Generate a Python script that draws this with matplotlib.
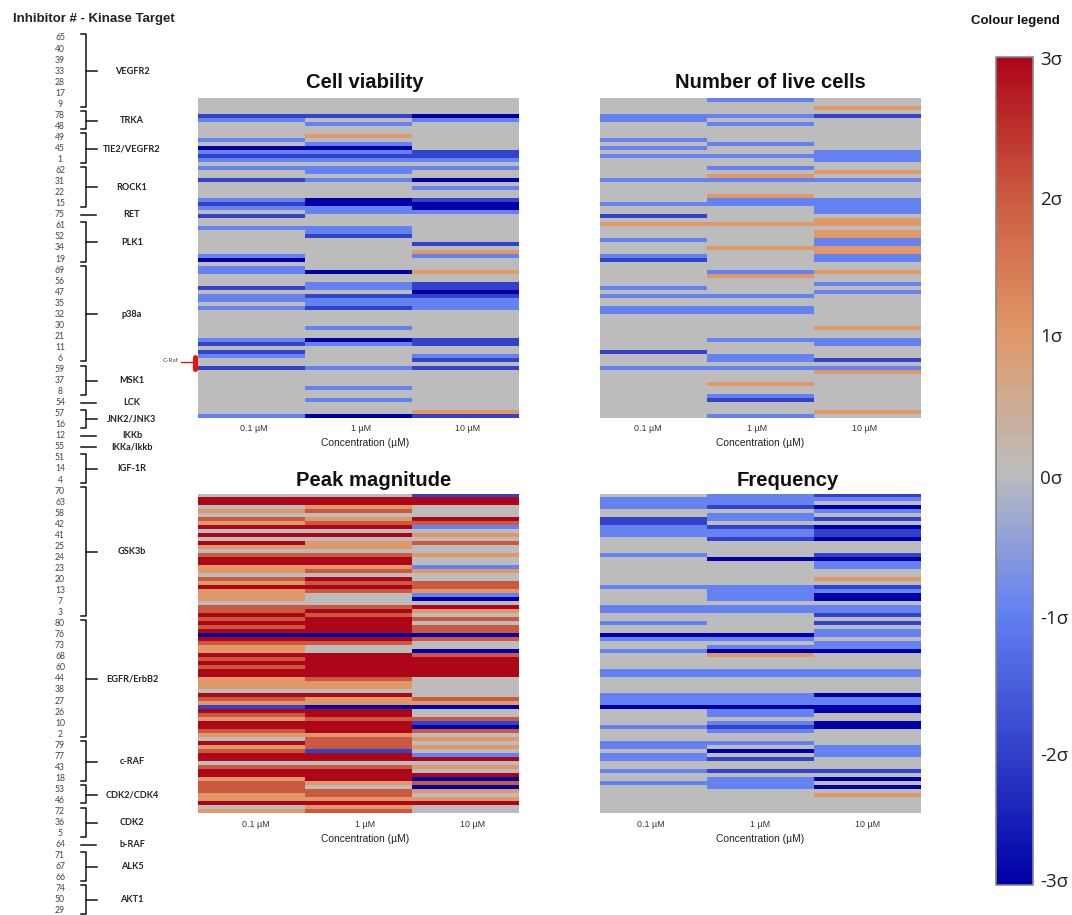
import matplotlib
matplotlib.use('Agg')
import matplotlib.pyplot as plt
from matplotlib.colors import LinearSegmentedColormap
import numpy as np

W, H = 1072, 915

concentrations = ['0.1 µM', '1 µM', '10 µM']

# inhibitor numbers top to bottom, grouped by kinase target
groups = [
    ('VEGFR2', [65, 40, 39, 33, 28, 17, 9]),
    ('TRKA', [78, 48]),
    ('TIE2/VEGFR2', [49, 45, 1]),
    ('ROCK1', [62, 31, 22, 15]),
    ('RET', [75]),
    ('PLK1', [61, 52, 34, 19]),
    ('p38a', [69, 56, 47, 35, 32, 30, 21, 11, 6]),
    ('MSK1', [59, 37, 8]),
    ('LCK', [54]),
    ('JNK2/JNK3', [57, 16]),
    ('IKKb', [12]),
    ('IKKa/Ikkb', [55]),
    ('IGF-1R', [51, 14, 4]),
    ('GSK3b', [70, 63, 58, 42, 41, 25, 24, 23, 20, 13, 7, 3]),
    ('EGFR/ErbB2', [80, 76, 73, 68, 60, 44, 38, 27, 26, 10, 2]),
    ('c-RAF', [79, 77, 43, 18]),
    ('CDK2/CDK4', [53, 46]),
    ('CDK2', [72, 36, 5]),
    ('b-RAF', [64]),
    ('ALK5', [71, 67, 66]),
    ('AKT1', [74, 50, 29]),
]

# values in sigma per row, rows not listed are 0
viability_01 = {4: -2, 5: -1, 10: -1, 12: -3, 13: -1, 14: -2, 15: -1, 17: -1, 20: -2, 25: -1, 26: -2, 27: -1,
                29: -2, 32: -1, 39: -1, 40: -3, 42: -1, 43: -1, 47: -2, 49: -1, 50: -1, 52: -1, 60: -1, 61: -2,
                63: -2, 64: -1, 67: -2, 79: -1}
viability_1 = {4: -2, 6: -1, 9: 1, 11: -1, 12: -3, 13: -1, 14: -2, 15: -1, 17: -1, 18: -1, 20: -1, 25: -3, 26: -3,
               27: -1, 28: -1, 32: -1, 33: -1, 34: -2, 43: -3, 46: -1, 47: -1, 49: -2, 50: -1, 51: -1, 52: -2,
               57: -1, 60: -3, 61: -1, 67: -1, 72: -1, 75: -1, 79: -3}
viability_10 = {4: -3, 5: -1, 13: -2, 14: -2, 15: -1, 17: -1, 20: -3, 22: -1, 25: -2, 26: -3, 27: -3, 28: -1,
                36: -2, 38: 1, 39: -1, 43: 1, 46: -2, 47: -2, 48: -3, 49: -2, 50: -1, 51: -1, 52: -1, 60: -2,
                61: -2, 64: -1, 65: -2, 67: -2, 78: 1, 79: -2}

live_01 = {4: -1, 5: -1, 10: -1, 12: -1, 14: -1, 20: -1, 26: -1, 29: -2, 31: 1, 35: -1, 39: -1, 40: -2, 47: -1,
           49: -1, 52: -1, 53: -1, 63: -2, 67: -1}
live_1 = {0: -1, 4: -1, 6: -1, 11: -1, 14: -1, 17: -1, 19: 1, 20: -1, 24: 1, 25: -1, 26: -1, 31: 1, 37: 1, 43: -1,
          44: 1, 49: -1, 52: -1, 53: -1, 60: -1, 64: -1, 65: -1, 67: -1, 71: 1, 74: -1, 75: -2, 79: -1}
live_10 = {2: 1, 4: -2, 13: -1, 14: -1, 15: -1, 18: 1, 20: -1, 25: -1, 26: -1, 27: -1, 28: -1, 30: 1, 31: 1, 33: 1,
           34: 1, 35: -1, 36: -1, 37: 1, 38: 1, 39: -1, 40: -1, 43: 1, 46: -1, 48: -1, 57: 1, 60: -1, 61: -1,
           65: -2, 67: -1, 68: 1, 78: 1}

peak_01 = {1: 3, 2: 3, 4: 1, 6: 2, 7: 1, 8: 3, 10: 3, 12: 3, 13: 1, 15: 2, 16: 3, 17: 3, 18: 1, 19: 1, 21: 2, 22: 1,
           23: 3, 24: 1, 25: 1, 26: 1, 28: 2, 29: 2, 30: 3, 31: 2, 32: 3, 33: 2, 34: 3, 35: -3, 36: 3, 37: 2,
           38: 1, 39: 1, 40: 3, 41: 2, 42: 3, 43: 2, 44: 3, 45: 3, 46: 1, 47: 1, 48: 1, 50: 3, 51: 2, 52: 1,
           53: -2, 54: 3, 55: 2, 56: 1, 57: 3, 58: 3, 59: 2, 60: 1, 62: 3, 63: 1, 64: 2, 65: 3, 66: 3, 68: 2,
           69: 3, 70: 3, 71: 1, 72: 2, 73: 2, 74: 2, 75: 1, 76: 1, 77: 3, 79: 1}
peak_1 = {1: 3, 2: 3, 3: 1, 4: 2, 6: 1, 7: 2, 8: 3, 10: 3, 12: 1, 13: 1, 15: 2, 16: 3, 17: 3, 18: 1, 19: 2, 21: 3,
          22: 2, 23: 3, 24: 2, 28: 2, 29: 3, 30: 2, 31: 3, 32: 3, 33: 3, 34: 3, 35: -3, 36: 3, 37: 2, 40: 3,
          41: 3, 42: 3, 43: 3, 44: 3, 45: 3, 46: 2, 47: 1, 48: 1, 50: 3, 51: 1, 52: 1, 53: -3, 54: 3, 55: 3,
          56: 2, 57: 3, 58: 3, 59: 3, 60: 1, 61: 2, 62: 2, 63: 2, 64: -2, 65: 3, 66: 3, 68: 2, 69: 3, 70: 3,
          71: 3, 72: 1, 74: 2, 75: 2, 76: 1, 77: 3, 78: 1, 79: 2}
peak_10 = {0: -2, 1: 3, 2: 3, 6: 3, 7: 2, 8: -1, 10: 1, 12: 2, 15: 1, 18: -1, 19: 1, 22: 2, 23: 2, 24: 1, 25: -1,
           26: -3, 28: 3, 29: 1, 31: 2, 33: 2, 34: 2, 35: -3, 36: 2, 39: -3, 40: 2, 41: 3, 42: 3, 43: 3, 44: 3,
           45: 3, 51: 2, 52: 1, 53: -3, 56: 2, 57: -2, 58: -3, 59: 2, 61: 1, 63: 1, 65: -1, 66: 3, 68: 1, 70: 3,
           71: -3, 72: 2, 73: -3, 74: 1, 76: 1, 77: 3}

freq_01 = {1: -1, 2: -1, 3: -1, 6: -2, 7: -2, 8: -1, 9: -1, 10: -1, 15: -1, 23: -1, 28: -1, 29: -1, 32: -1, 35: -3,
           36: -1, 39: -1, 44: -1, 45: -1, 50: -1, 51: -1, 52: -1, 53: -3, 58: -1, 62: -1, 63: -1, 65: -1, 66: -1,
           69: -1, 72: -1}
freq_1 = {0: -1, 1: -1, 2: -1, 3: -2, 5: -1, 6: -1, 8: -2, 9: -1, 10: -1, 11: -2, 16: -3, 23: -1, 24: -1, 25: -1,
          26: -1, 28: -1, 29: -1, 35: -3, 36: -1, 38: -1, 39: -3, 40: 1, 44: -1, 45: -1, 50: -1, 51: -1, 52: -1,
          53: -3, 54: -1, 55: -1, 57: -1, 58: -2, 59: -1, 62: -1, 64: -3, 66: -2, 69: -2, 71: -1, 72: -1, 73: -1}
freq_10 = {0: -2, 1: -1, 3: -3, 4: -1, 6: -2, 8: -3, 9: -2, 10: -2, 11: -3, 15: -2, 16: -3, 17: -1, 18: -1, 21: 1,
           23: -2, 24: -1, 25: -3, 26: -3, 28: -1, 29: -1, 30: -2, 32: -2, 34: -1, 35: -1, 37: -1, 38: -1, 39: -3,
           44: -1, 45: -1, 50: -3, 51: -1, 52: -1, 53: -3, 54: -3, 57: -3, 58: -3, 63: -1, 64: -1, 65: -1, 69: -2,
           71: -3, 73: -3, 75: 1}

# title, columns, left, top, title centre (x, y), tick label centres, x label centre
panels = [
    ('Cell viability', (viability_01, viability_1, viability_10), 198.5, 98, (365, 83), (254, 361, 468), 365),
    ('Number of live cells', (live_01, live_1, live_10), 600, 98, (770, 83), (648, 757, 865), 760),
    ('Peak magnitude', (peak_01, peak_1, peak_10), 198.5, 493.5, (374, 481), (256, 365, 473), 365),
    ('Frequency', (freq_01, freq_1, freq_10), 600, 493.5, (788, 481), (651, 760, 868), 760),
]

sigma_labels = ['3σ', '2σ', '1σ', '0σ', '-1σ', '-2σ', '-3σ']
sigma_label_y = [58, 198, 335, 477, 617, 754, 880]

cmap = LinearSegmentedColormap.from_list('sigma', [
    '#0000a6', '#3343cb', '#6482f2', '#bdbdbd', '#e09868', '#cb5a40', '#ad0619'])

plt.rcParams['font.family'] = ['Liberation Sans', 'DejaVu Sans']


def px_axes(fig, x0, y0, x1, y1):
    return fig.add_axes([x0 / W, 1 - y1 / H, (x1 - x0) / W, (y1 - y0) / H])


fig = plt.figure(figsize=(W / 100, H / 100), dpi=100)

# overlay in pixel coordinates for the hand drawn annotation on the left
over = fig.add_axes([0, 0, 1, 1])
over.set_xlim(0, W)
over.set_ylim(H, 0)
over.axis('off')

over.text(13, 19, 'Inhibitor # - Kinase Target', fontsize=9.5, fontweight='bold', va='center', color='#222222')
over.text(1015, 21, 'Colour legend', fontsize=9.5, fontweight='bold', ha='center', va='center', color='#111111')

row = 0
step = 11.05
for name, numbers in groups:
    first = 38 + row * step
    last = first + (len(numbers) - 1) * step
    mid = (first + last) / 2
    for i, num in enumerate(numbers):
        over.text(60, first + i * step, str(num), fontsize=6.2, ha='center', va='center',
                  color='#444444', family='Lato')
    if len(numbers) == 1:
        over.plot([81, 96], [mid, mid], color='#111111', lw=1.1)
    else:
        over.plot([81, 85.5, 85.5, 81], [first - 4, first - 4, last + 3, last + 3], color='#111111', lw=1.1)
        over.plot([85.5, 97], [mid, mid], color='#111111', lw=1.1)
    over.text(132, mid, name, fontsize=6.6, fontweight='bold', ha='center', va='center',
              color='#222222', family='Lato')
    row += len(numbers)

# c-Raf marker next to the viability panel
over.text(171, 361, 'C-Raf', fontsize=4.6, ha='center', va='center', color='#444444', family='Lato')
over.plot([181, 193], [362, 362], color='#ee1111', lw=1.0)
over.plot([195, 195], [357, 369], color='#ee1111', lw=3.6, solid_capstyle='round')

for title, columns, x0, y0, title_xy, tick_x, label_x in panels:
    data = np.zeros((80, 3))
    for c, col in enumerate(columns):
        for r, v in col.items():
            data[r, c] = v
    ax = px_axes(fig, x0, y0, x0 + 321, y0 + 320)
    ax.imshow(data, aspect='auto', cmap=cmap, vmin=-3, vmax=3, interpolation='nearest')
    ax.set_yticks([])
    # tick labels sit a little off the column centres in the original
    ax.set_xticks([(x - x0) / 107 - 0.5 for x in tick_x])
    ax.set_xticklabels(concentrations, fontsize=6.4, color='#333333')
    ax.tick_params(axis='x', length=0, pad=4.5)
    for s in ax.spines.values():
        s.set_visible(False)
    ax.set_xlabel('Concentration (µM)', fontsize=7.4, color='#222222', labelpad=5)
    ax.xaxis.set_label_coords((label_x - x0) / 321, -0.064)
    over.text(title_xy[0], title_xy[1], title, fontsize=14.6, fontweight='bold', ha='center', va='center',
              color='#111111')

# colour legend
cax = px_axes(fig, 996, 57, 1033, 885)
sm = plt.cm.ScalarMappable(cmap=cmap, norm=plt.Normalize(-3, 3))
cb = fig.colorbar(sm, cax=cax)
cb.set_ticks([3 - (y - 57) / 138 for y in sigma_label_y])
cb.set_ticklabels(sigma_labels, fontsize=13.5, family='Open Sans', color='#222222')
cax.tick_params(length=0, pad=5)
cb.outline.set_edgecolor('#888888')
cb.outline.set_linewidth(1.2)

fig.savefig('out.png', dpi=100)
